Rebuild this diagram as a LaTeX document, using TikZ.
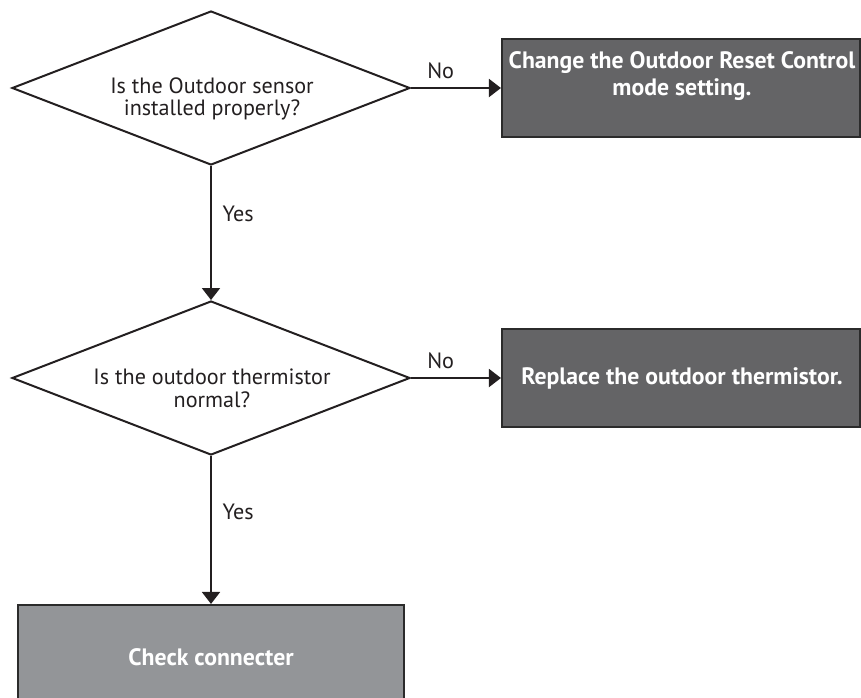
\documentclass[tikz,border=0pt]{standalone}
\usepackage{fontspec}
\setmainfont{PT Sans}
\usetikzlibrary{arrows.meta,positioning,shapes.geometric}
\definecolor{ink}{HTML}{231F20}
\definecolor{darkbox}{HTML}{646466}
\definecolor{midbox}{HTML}{939598}
\definecolor{boxedge}{HTML}{2B2B2B}
\tikzset{
    every picture/.style={line join=miter},
    question/.style={draw=ink,diamond,line width=1.5pt,aspect=2.58,
      minimum width=298.5pt,minimum height=115.5pt,inner sep=0pt},
    asktext/.style={text=ink,align=center,font=\fontsize{16.6}{17}\selectfont},
    actbox/.style={draw=boxedge,fill=darkbox,line width=1.6pt,
      minimum width=268.5pt,minimum height=73.5pt,inner sep=0pt},
    endbox/.style={actbox,fill=midbox,minimum width=289.5pt,minimum height=75pt},
    boxtext/.style={text=white,align=center,
      font=\fontsize{17.8}{20}\selectfont\bfseries},
    flowarrow/.style={-{Triangle[length=9pt,width=13.5pt]},draw=ink,
      line width=1.5pt},
    answer/.style={text=ink,font=\fontsize{16.6}{17}\selectfont,inner sep=1pt}
}

\begin{document}
\begin{tikzpicture}[x=0.75pt,y=-0.75pt]
  \useasboundingbox (0,0) rectangle (861,697);
  \clip (0,0) rectangle (861,697);
  % questions
  \node[question] (sensor) at (211,88) {};
  \node[asktext] (sensortext) at (212,99) {Is the Outdoor sensor\\installed properly?};
  \node[question] (thermo) at (211,378) {};
  \node[asktext] (thermotext) at (212,388) {Is the outdoor thermistor\\normal?};
  % actions
  \node[actbox] (reset) at (681,88) {};
  \node[boxtext] (resettext) at (682,76) {Change the Outdoor Reset Control\\mode setting.};
  \node[actbox] (replace) at (681,378) {};
  \node[boxtext] (replacetext) at (682,378) {Replace the outdoor thermistor.};
  \node[endbox] (connect) at (211,655) {};
  \node[boxtext] (connecttext) at (211,657) {Check connecter};
  % arrows
  \draw[flowarrow] (sensor.east) -- (reset.west)
    node[answer,pos=0.33,above=5pt] (no1) {No};
  \draw[flowarrow] (sensor.south) -- (thermo.north)
    node[answer,pos=0.36,right=7pt] (yes1) {Yes};
  \draw[flowarrow] (thermo.east) -- (replace.west)
    node[answer,pos=0.33,above=5pt] (no2) {No};
  \draw[flowarrow] (thermo.south) -- (connect.north)
    node[answer,pos=0.38,right=7pt] (yes2) {Yes};
\end{tikzpicture}
\end{document}
